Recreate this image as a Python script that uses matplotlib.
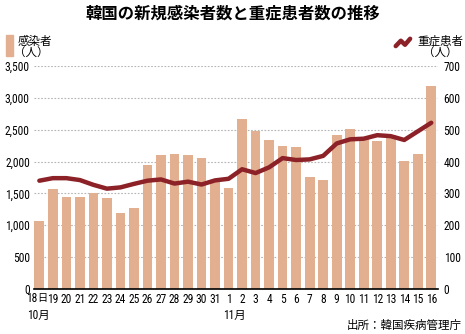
import matplotlib
matplotlib.use("Agg")
import matplotlib.pyplot as plt
from matplotlib import font_manager
from matplotlib.patches import Rectangle
from matplotlib.lines import Line2D
from matplotlib.transforms import ScaledTranslation

# data
days = ["18", "19", "20", "21", "22", "23", "24", "25", "26", "27", "28", "29", "30", "31",
        "1", "2", "3", "4", "5", "6", "7", "8", "9", "10", "11", "12", "13", "14", "15", "16"]
infected = [1073, 1571, 1441, 1439, 1508, 1423, 1190, 1266, 1952, 2111, 2124, 2104, 2061, 1686,
            1589, 2667, 2482, 2344, 2248, 2224, 1758, 1715, 2425, 2520, 2368, 2324, 2419, 2006, 2125, 3187]
severe = [340, 348, 348, 342, 327, 315, 319, 330, 340, 344, 331, 337, 328, 341,
          346, 376, 364, 382, 411, 405, 407, 418, 457, 470, 472, 483, 480, 468, 495, 522]
left_ticks = [0, 500, 1000, 1500, 2000, 2500, 3000, 3500]
right_ticks = [0, 100, 200, 300, 400, 500, 600, 700]

names = {f.name for f in font_manager.fontManager.ttflist}
num_font = "Roboto Condensed" if "Roboto Condensed" in names else "DejaVu Sans"
jp = "Noto Sans CJK JP"
plt.rcParams["font.family"] = [num_font, jp]

bar_c = "#E2B091"
line_c = "#8C2127"
fs = 8.3

fig = plt.figure(figsize=(4.65, 3.34), dpi=100)
ax = fig.add_axes([0.073, 0.135, 0.869, 0.667])
x = list(range(len(days)))
ax.bar(x, infected, width=0.72, color=bar_c, zorder=2)
ax.set_ylim(0, 3500)
ax.set_xlim(-0.4, 29.5)
ax.set_yticks(left_ticks)
ax.set_yticklabels([f"{v:,}" for v in left_ticks], fontsize=fs)
ax.yaxis.grid(True, color="#b5b5b5", linestyle=(0, (1.5, 1.5)), linewidth=0.8, zorder=0)
ax.set_axisbelow(True)
for s in ["left", "right", "top"]:
    ax.spines[s].set_visible(False)
ax.spines["bottom"].set_linewidth(1.2)
ax.tick_params(axis="y", length=0, pad=3)
ax.tick_params(axis="x", length=0, pad=3)
ax.set_xticks(x)
ax.set_xticklabels([""] + days[1:], fontsize=fs)

ax2 = ax.twinx()
ax2.plot(x, severe, color=line_c, linewidth=3.2, zorder=3, solid_capstyle="round")
ax2.set_ylim(0, 700)
ax2.set_yticks(right_ticks)
ax2.set_yticklabels([str(v) for v in right_ticks], fontsize=fs)
ax2.tick_params(axis="y", length=0, pad=4)
for s in ["left", "right", "top", "bottom"]:
    ax2.spines[s].set_visible(False)

# first day label and month labels
tr = ax.get_xaxis_transform()
ax.text(0, -0.0135, "18", transform=tr + ScaledTranslation(-13 / 100, 0, fig.dpi_scale_trans),
        fontsize=fs, ha="left", va="top")
ax.text(0, -0.018, "日", transform=tr + ScaledTranslation(-2.5 / 100, 0, fig.dpi_scale_trans),
        fontsize=7.3, ha="left", va="top", family=jp)
ax.text(0, -0.09, "10月", transform=tr + ScaledTranslation(-12 / 100, 0, fig.dpi_scale_trans),
        fontsize=fs, ha="left", va="top", family=[num_font, jp])
ax.text(14 - 0.4, -0.09, "11月", transform=tr, fontsize=fs, ha="left", va="top", family=[num_font, jp])

# title
fig.text(0.5, 0.958, "韓国の新規感染者数と重症患者数の推移", ha="center", va="center",
         fontsize=11.8, fontweight="bold", family=jp)

# legends
fig.patches.append(Rectangle((0.013, 0.832), 0.015, 0.063, transform=fig.transFigure,
                             color=bar_c))
fig.text(0.039, 0.877, "感染者", fontsize=8.3, va="center", family=jp)
fig.text(0.03, 0.84, "（人）", fontsize=8.3, va="center", family=jp)
fig.lines.append(Line2D([0.851, 0.862, 0.871, 0.882], [0.862, 0.878, 0.866, 0.884],
                        transform=fig.transFigure, color=line_c, linewidth=3.2,
                        solid_capstyle="round"))
fig.text(0.897, 0.877, "重症患者", fontsize=8.3, va="center", family=jp)
fig.text(0.983, 0.84, "（人）", fontsize=8.3, va="center", ha="right", family=jp)

fig.text(0.993, 0.025, "出所：韓国疾病管理庁", fontsize=8.3, ha="right", va="center", family=jp)

fig.savefig("out.png", dpi=100)
